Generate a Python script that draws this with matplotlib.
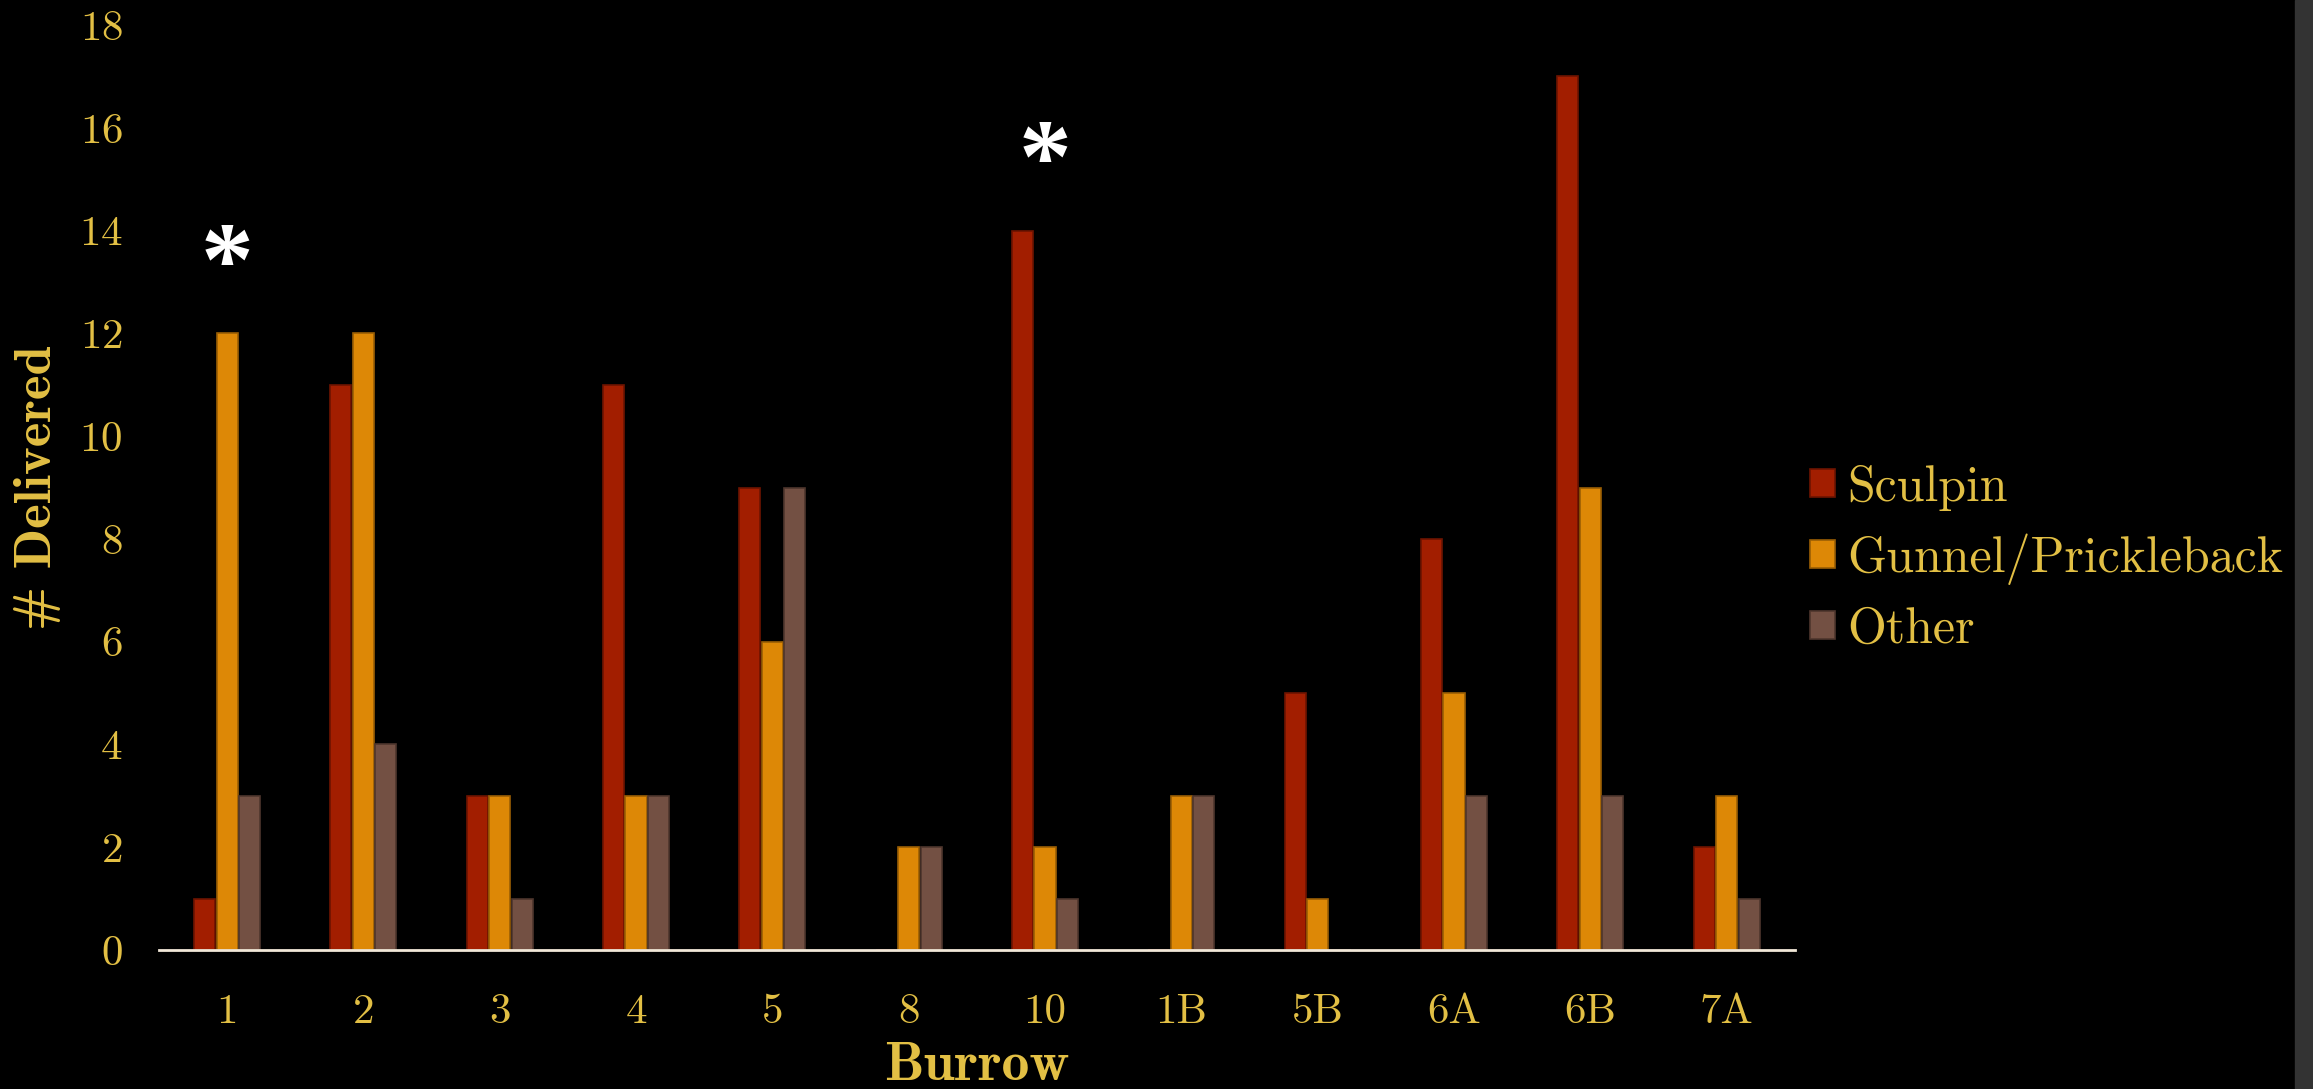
import numpy as np
import matplotlib
matplotlib.use('Agg')
import matplotlib.pyplot as plt
from matplotlib.patches import Rectangle

### data
burrows = ['1', '2', '3', '4', '5', '8', '10', '1B', '5B', '6A', '6B', '7A']
sculpin = [1, 11, 3, 11, 9, 0, 14, 0, 5, 8, 17, 2]
gunnel = [12, 12, 3, 3, 6, 2, 2, 3, 1, 5, 9, 3]
other = [3, 4, 1, 3, 9, 2, 1, 3, 0, 3, 3, 1]
starred = ['1', '10']   # burrows marked with an asterisk

series = [('Sculpin', sculpin, '#a21e00', '#6e1400'),
          ('Gunnel/Prickleback', gunnel, '#dd8806', '#9a5e04'),
          ('Other', other, '#735043', '#4e362d')]

gold = '#e2bf44'
plt.rcParams['font.family'] = 'cmr10'
plt.rcParams['axes.unicode_minus'] = False
plt.rcParams['axes.formatter.use_mathtext'] = True

fig = plt.figure(figsize=(23.13, 10.89), dpi=100)
fig.patch.set_facecolor('black')
ax = fig.add_axes([0.0687, 0.1276, 0.7073, 0.8494])
ax.set_facecolor('black')

### bars
x = np.arange(len(burrows))
w = 0.155
step = 0.165
for i, (name, vals, col, edge) in enumerate(series):
    ax.bar(x + (i - 1) * step, vals, w, color=col, edgecolor=edge,
           linewidth=1.2, label=name)

### asterisks above the starred groups
for b in starred:
    k = burrows.index(b)
    top = max(sculpin[k], gunnel[k], other[k])
    ax.text(k, top + 1.25, '*', color='white', fontsize=76, fontweight='bold',
            ha='center', va='center', family='Liberation Serif')

### axes
ax.set_xlim(-0.5, len(burrows) - 0.5)
ax.set_ylim(0, 18)
ax.set_yticks(np.arange(0, 19, 2))
ax.set_xticks(x)
ax.set_xticklabels(burrows)
ax.tick_params(axis='both', length=0, labelsize=31, labelcolor=gold)
ax.tick_params(axis='y', pad=26)
ax.tick_params(axis='x', pad=31)
for s in ['top', 'right', 'left']:
    ax.spines[s].set_visible(False)
ax.spines['bottom'].set_color('#f2e8d8')
ax.spines['bottom'].set_linewidth(2)

ax.set_xlabel('Burrow', fontsize=40, color=gold, family='cmb10', labelpad=8)
ax.set_ylabel('# Delivered', fontsize=38, color=gold, family='cmb10', labelpad=13)

leg = ax.legend(loc='center left', bbox_to_anchor=(1.0, 0.423), frameon=False,
                fontsize=36, handlelength=0.5, handleheight=0.5,
                handletextpad=0.25, labelspacing=0.45, borderaxespad=0,
                borderpad=0.3)
for t in leg.get_texts():
    t.set_color(gold)

### grey strip along the right edge
fig.patches.append(Rectangle((2295 / 2313, 0), 18 / 2313, 1, transform=fig.transFigure,
                             color='#333333', zorder=-1))

fig.savefig('out.png', dpi=100, facecolor='black')
